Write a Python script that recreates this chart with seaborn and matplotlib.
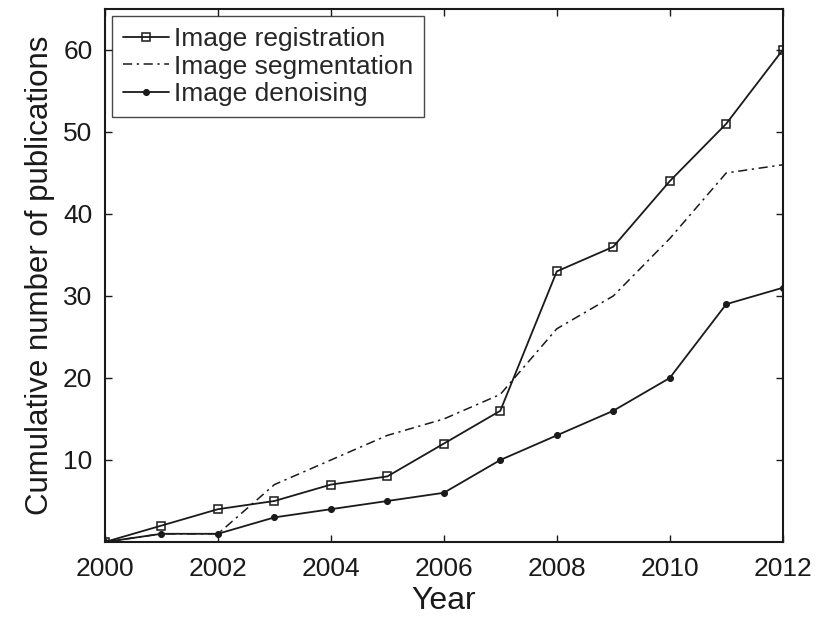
import matplotlib
matplotlib.use("Agg")
import matplotlib.pyplot as plt
import seaborn as sns

sns.set_theme(style="white")
plt.rcParams['font.family'] = ['Liberation Sans', 'DejaVu Sans']

years = list(range(2000, 2013))
registration = [0, 2, 4, 5, 7, 8, 12, 16, 33, 36, 44, 51, 60]
segmentation = [0, 1, 1, 7, 10, 13, 15, 18, 26, 30, 37, 45, 46]
denoising = [0, 1, 1, 3, 4, 5, 6, 10, 13, 16, 20, 29, 31]
labels = ["Image registration", "Image segmentation", "Image denoising"]
xticks = [2000, 2002, 2004, 2006, 2008, 2010, 2012]
yticks = [10, 20, 30, 40, 50, 60]

ink = "#1a1a1a"

fig = plt.figure(figsize=(8.17, 6.19), dpi=100)
ax = fig.add_axes([0.1285, 0.1244, 0.8295, 0.8611])

sns.lineplot(x=years, y=registration, ax=ax, color=ink, lw=1.3,
             marker="s", markersize=5.2, markerfacecolor="none",
             markeredgecolor=ink, markeredgewidth=1.1, label=labels[0])
sns.lineplot(x=years, y=segmentation, ax=ax, color=ink, lw=1.1,
             label=labels[1])
ax.lines[-1].set_linestyle((0, (6, 3, 1.5, 3)))
sns.lineplot(x=years, y=denoising, ax=ax, color=ink, lw=1.3,
             marker="o", markersize=4.3, markerfacecolor=ink,
             markeredgecolor=ink, label=labels[2])

ax.set_xlim(2000, 2012)
ax.set_ylim(0, 65)
ax.set_xticks(xticks)
ax.set_yticks(yticks)
ax.tick_params(direction="in", length=5, width=1, labelsize=19,
               colors=ink, top=True, right=True, bottom=True, left=True,
               labeltop=False, labelright=False)
ax.tick_params(axis="x", pad=10.5)
ax.tick_params(axis="y", pad=9)
for s in ax.spines.values():
    s.set_color(ink)
    s.set_linewidth(1.5)
ax.set_xlabel("Year", fontsize=23, color=ink, labelpad=4)
ax.set_ylabel("Cumulative number of publications", fontsize=22.5, color=ink, labelpad=6)

leg = ax.legend(loc="upper left", fontsize=19, frameon=True, fancybox=False,
                edgecolor=ink, borderpad=0.4, labelspacing=0.14,
                handlelength=1.75, handletextpad=0.2, borderaxespad=0.28)
leg.get_frame().set_linewidth(1.0)

fig.savefig("out.png", dpi=100)
